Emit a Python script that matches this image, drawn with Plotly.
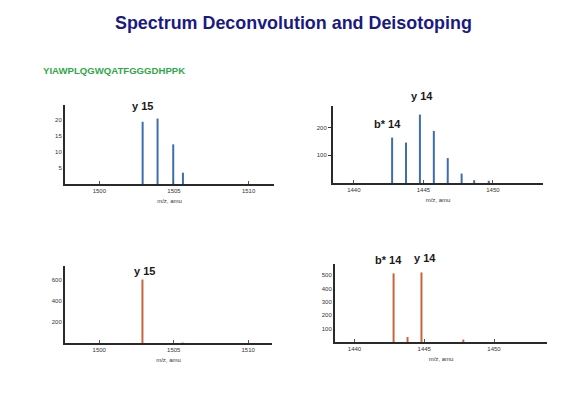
import plotly.graph_objects as go

# page body has an 8px margin; work in screen pixels and subtract it
OFF = 8
W, H = 566 - OFF, 393 - OFF

# ---- data ----
title_text = "Spectrum Deconvolution and Deisotoping"
peptide = "YIAWPLQGWQATFGGGDHPPK"

tl_mz = [1502.9, 1503.9, 1504.95, 1505.6]
tl_int = [19.3, 20.3, 12.3, 3.5]

tr_mz = [1442.75, 1443.75, 1444.75, 1445.75, 1446.75, 1447.75, 1448.65, 1449.7]
tr_int = [164, 146, 247, 188, 90, 34, 10, 8]

bl_mz = [1502.9, 1505.6]
bl_int = [604, 4]

br_mz = [1442.8, 1443.8, 1444.8, 1447.8]
br_int = [513, 37, 520, 18]

tl_xticks = [1500, 1505, 1510]
tr_xticks = [1440, 1445, 1450]
tl_yticks = [5, 10, 15, 20]
tr_yticks = [100, 200]
bl_yticks = [200, 400, 600]
br_yticks = [100, 200, 300, 400, 500]

BLUE = "#3d6fae"
ORANGE = "#c9653a"


def fx(px):
    return (px - OFF) / W


def fy(py):
    return 1 - (py - OFF) / H


# panel pixel boxes (screen coords): (x0, x1, ytop, ybottom)
panels = [
    dict(box=(65, 274, 105, 184), xr=[1497.7, 1511.7], yr=[0, 24.5], mz=tl_mz, it=tl_int,
         xt=tl_xticks, yt=tl_yticks, col=BLUE, ticklen=0),
    dict(box=(333, 543, 106, 183), xr=[1438.5, 1453.6], yr=[0, 278], mz=tr_mz, it=tr_int,
         xt=tr_xticks, yt=tr_yticks, col=BLUE, ticklen=3),
    dict(box=(65, 272, 266, 343), xr=[1497.7, 1511.6], yr=[0, 733], mz=bl_mz, it=bl_int,
         xt=tl_xticks, yt=bl_yticks, col=ORANGE, ticklen=0),
    dict(box=(335, 547, 264, 342), xr=[1438.6, 1453.8], yr=[0, 583], mz=br_mz, it=br_int,
         xt=tr_xticks, yt=br_yticks, col=ORANGE, ticklen=0),
]

fig = go.Figure()
layout = dict(
    width=W, height=H, margin=dict(l=0, r=0, t=0, b=0),
    paper_bgcolor="white", plot_bgcolor="white", showlegend=False,
    font=dict(family="Liberation Sans, Arial, sans-serif", color="#222"),
)

for i, p in enumerate(panels, start=1):
    x0, x1, yt, yb = p["box"]
    xa = "x" if i == 1 else f"x{i}"
    ya = "y" if i == 1 else f"y{i}"
    xs, ys = [], []
    for m, v in zip(p["mz"], p["it"]):
        xs += [m, m, None]
        ys += [0, v, None]
    fig.add_trace(go.Scatter(x=xs, y=ys, mode="lines", xaxis=xa, yaxis=ya,
                             line=dict(color=p["col"], width=2), hoverinfo="skip"))
    xkey = "xaxis" if i == 1 else f"xaxis{i}"
    ykey = "yaxis" if i == 1 else f"yaxis{i}"
    layout[xkey] = dict(
        domain=[fx(x0), fx(x1)], range=p["xr"], anchor=ya,
        showgrid=False, zeroline=False, showline=True, linecolor="#2a2a2a", linewidth=2,
        tickmode="array", tickvals=p["xt"], ticktext=[str(t) for t in p["xt"]],
        ticks="inside", ticklen=3, tickcolor="#555", tickwidth=1,
        tickfont=dict(size=6, color="#333"),
        title=dict(text="m/z, amu", font=dict(size=6, color="#333"), standoff=6),
    )
    layout[ykey] = dict(
        domain=[fy(yb), fy(yt)], range=p["yr"], anchor=xa,
        showgrid=False, zeroline=False, showline=True, linecolor="#2a2a2a", linewidth=2,
        tickmode="array", tickvals=p["yt"], ticktext=[str(t) for t in p["yt"]],
        ticks="outside" if p["ticklen"] else "", ticklen=max(p["ticklen"], 1),
        tickcolor="#333", tickwidth=1,
        tickfont=dict(size=6, color="#333"),
    )

ann = []


def lab(text, x, y, size=11):
    ann.append(dict(text=f"<b>{text}</b>", x=fx(x), y=fy(y), xref="paper", yref="paper",
                    showarrow=False, xanchor="center", yanchor="middle",
                    font=dict(size=size, color="#1a1a1a", family="Liberation Sans, Arial, sans-serif")))


lab("y 15", 142, 106)
lab("y 14", 422, 96)
lab("b* 14", 387, 124)
lab("y 15", 144, 271)
lab("b* 14", 388, 260)
lab("y 14", 425, 258)

ann.append(dict(text=f"<b>{title_text}</b>", x=fx(293), y=fy(23), xref="paper", yref="paper",
                showarrow=False, xanchor="center", yanchor="middle",
                font=dict(size=17.9, color="#1a1a85", family="Liberation Sans, Arial, sans-serif")))
ann.append(dict(text=f"<b>{peptide}</b>", x=fx(41), y=fy(71), xref="paper", yref="paper",
                showarrow=False, xanchor="left", yanchor="middle",
                font=dict(size=9.6, color="#2fa84a", family="Liberation Sans, Arial, sans-serif")))
layout["annotations"] = ann

fig.update_layout(**layout)
fig.write_html("out.html")
